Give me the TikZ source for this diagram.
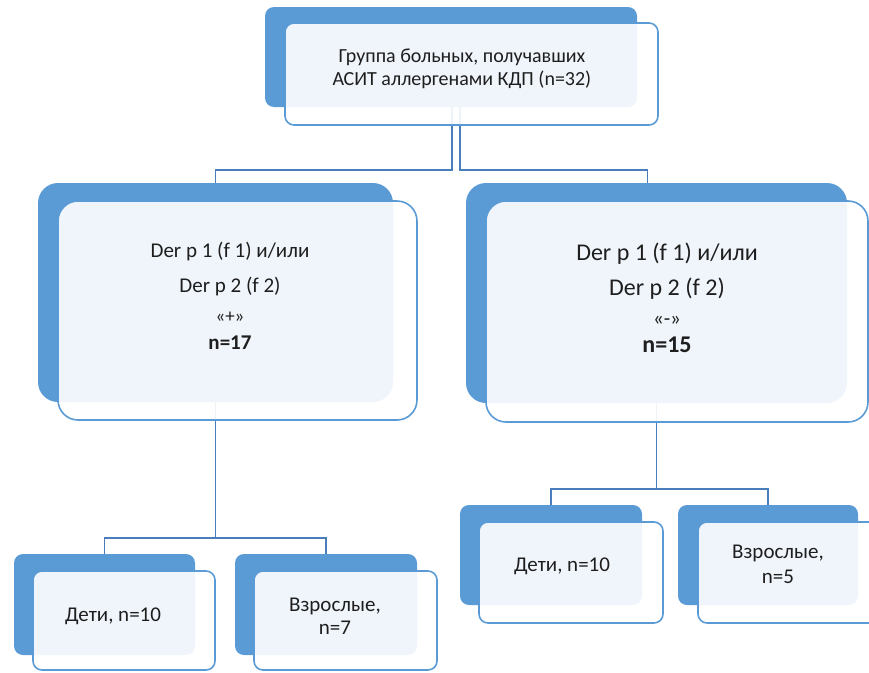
\documentclass[tikz,border=0pt]{standalone}
\usepackage{fontspec}
\setmainfont{Carlito}
\definecolor{backblue}{HTML}{5B9BD5}
\definecolor{lineblue}{HTML}{4A7EBB}
\definecolor{txt}{HTML}{1E1E1E}
\begin{document}
\begin{tikzpicture}[x=1pt,y=-1pt,
  backbox/.style={rectangle, rounded corners=#1, fill=backblue, inner sep=0pt},
  frontbox/.style={rectangle, rounded corners=#1, draw=backblue, line width=1.6pt, fill=white, fill opacity=0.91, inner sep=0pt},
  conn/.style={draw=lineblue, line width=1.8pt},
  lbl/.style={text=txt, align=center, inner sep=0pt}]
\useasboundingbox (0,0) rectangle (869,672);
% back boxes
\node[backbox=9pt, minimum width=372pt, minimum height=100pt] (tb) at (451,57) {};
\node[backbox=20pt, minimum width=355pt, minimum height=219pt] (lb) at (215.5,292.5) {};
\node[backbox=20pt, minimum width=381pt, minimum height=220pt] (rb) at (656.5,293) {};
\node[backbox=9pt, minimum width=181pt, minimum height=101pt] (ba) at (104.5,604.5) {};
\node[backbox=9pt, minimum width=182pt, minimum height=101pt] (bb) at (326,604.5) {};
\node[backbox=9pt, minimum width=182pt, minimum height=100pt] (bc) at (551,555) {};
\node[backbox=9pt, minimum width=180pt, minimum height=100pt] (bd) at (768,555) {};
% connectors
\draw[conn] ([xshift=1pt]tb.south) -- ++(0,63) -| (lb.north);
\draw[conn] ([xshift=9pt]tb.south) -- ++(0,63) -| ([xshift=-9pt]rb.north);
\draw[conn] (lb.south) -- ++(0,136) -| (ba.north);
\draw[conn] (lb.south) -- ++(0,136) -| (bb.north);
\draw[conn] (rb.south) -- ++(0,86) -| (bc.north);
\draw[conn] (rb.south) -- ++(0,86) -| (bd.north);
% front boxes
\node[frontbox=9pt, minimum width=373pt, minimum height=102pt] (tf) at (471.5,74) {};
\node[frontbox=20pt, minimum width=359pt, minimum height=219pt] (lf) at (237.5,310.5) {};
\node[frontbox=20pt, minimum width=382pt, minimum height=221pt] (rf) at (677,311.5) {};
\node[frontbox=9pt, minimum width=182pt, minimum height=99pt] (fa) at (124,620.5) {};
\node[frontbox=9pt, minimum width=183pt, minimum height=99pt] (fb) at (345.5,620.5) {};
\node[frontbox=9pt, minimum width=184pt, minimum height=101pt] (fc) at (571,572.5) {};
\node[frontbox=9pt, minimum width=182pt, minimum height=101pt] (fd) at (789,572.5) {};
% labels
\node[lbl, font=\fontsize{20}{23}\selectfont] (ttext) at (462,68.5) {Группа больных, получавших\\АСИТ аллергенами КДП (n=32)};
\node[lbl, font=\fontsize{21}{35}\selectfont] (ltext) at (230,296) {Der p 1 (f 1) и/или\\Der p 2 (f 2)\\[-5pt]{\fontsize{19}{20}\selectfont «+»}\\[-8pt]\textbf{n=17}};
\node[lbl, font=\fontsize{24}{35}\selectfont] (rtext) at (667,297.5) {Der p 1 (f 1) и/или\\Der p 2 (f 2)\\[-5pt]{\fontsize{21}{20}\selectfont «-»}\\[-8pt]\textbf{n=15}};
\node[lbl, font=\fontsize{21}{23}\selectfont] (atext) at (113,616) {Дети, n=10};
\node[lbl, font=\fontsize{21}{23}\selectfont] (btext) at (335,616.5) {Взрослые,\\n=7};
\node[lbl, font=\fontsize{21}{23}\selectfont] (ctext) at (562,566) {Дети, n=10};
\node[lbl, font=\fontsize{21}{25}\selectfont] (dtext) at (778,564.5) {Взрослые,\\n=5};
\end{tikzpicture}
\end{document}
